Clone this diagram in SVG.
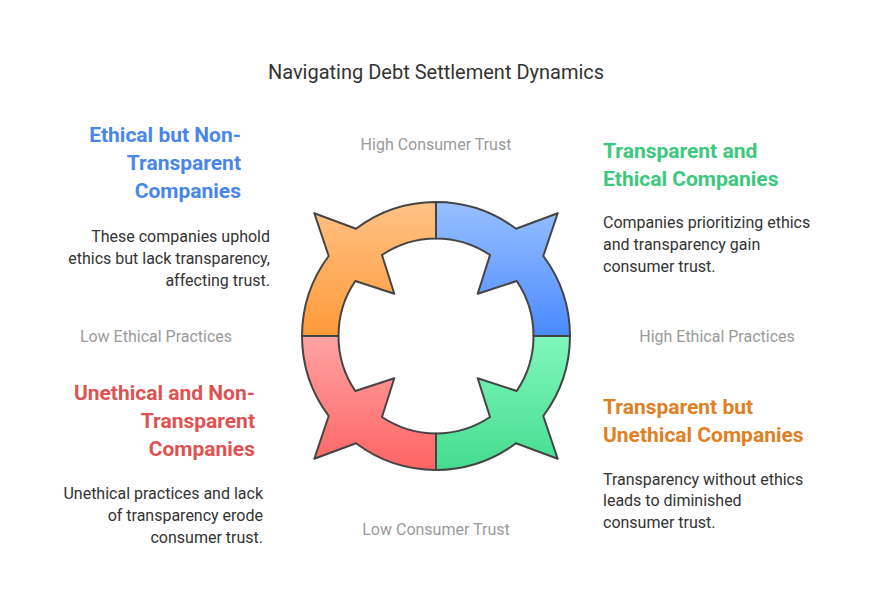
<svg xmlns="http://www.w3.org/2000/svg" width="873" height="616" viewBox="0 0 873 616">
<style>
text{font-family:Roboto,"Liberation Sans",sans-serif}
.t{font-size:20px;fill:#333}
.h{font-size:21px;font-weight:bold}
.b{font-size:16px;fill:#333}
.a{font-size:16px;fill:#9a9a9a}
.q{stroke:#444;stroke-width:2;stroke-linejoin:round}
.r{text-anchor:end}.m{text-anchor:middle}
</style>
<defs>
<linearGradient id="go" x1="0" y1="0" x2="0" y2="1"><stop offset="0" stop-color="#FFC285"/><stop offset="1" stop-color="#FF9A3A"/></linearGradient>
<linearGradient id="gb" x1="0" y1="0" x2="0" y2="1"><stop offset="0" stop-color="#98C0FF"/><stop offset="1" stop-color="#4A8AFF"/></linearGradient>
<linearGradient id="gr" x1="0" y1="0" x2="0" y2="1"><stop offset="0" stop-color="#FFA3A3"/><stop offset="1" stop-color="#FF6464"/></linearGradient>
<linearGradient id="gg" x1="0" y1="0" x2="0" y2="1"><stop offset="0" stop-color="#80F7BC"/><stop offset="1" stop-color="#45DC8E"/></linearGradient>
</defs>
<rect width="873" height="616" fill="#fff"/>
<text class="t m" x="436" y="79">Navigating Debt Settlement Dynamics</text>
<g id="ring">
<path class="q" fill="url(#go)" d="M436,202 L436,238.5 A97.5,97.5 0 0 0 382,255 L394.3,293.7 L355.3,281 A97.5,97.5 0 0 0 338.5,336 L302,336 A134,134 0 0 1 328.7,256 L314.3,213.3 L356,228.7 A134,134 0 0 1 436,202 Z"/>
<path class="q" fill="url(#gb)" d="M436,202 L436,238.5 A97.5,97.5 0 0 1 490,255 L477.7,293.7 L516.7,281 A97.5,97.5 0 0 1 533.5,336 L570,336 A134,134 0 0 0 543.3,256 L557.7,213.3 L516,228.7 A134,134 0 0 0 436,202 Z"/>
<path class="q" fill="url(#gr)" d="M436,470 L436,433.5 A97.5,97.5 0 0 1 382,417 L394.3,378.3 L355.3,391 A97.5,97.5 0 0 1 338.5,336 L302,336 A134,134 0 0 0 328.7,416 L314.3,458.7 L356,443.3 A134,134 0 0 0 436,470 Z"/>
<path class="q" fill="url(#gg)" d="M436,470 L436,433.5 A97.5,97.5 0 0 0 490,417 L477.7,378.3 L516.7,391 A97.5,97.5 0 0 0 533.5,336 L570,336 A134,134 0 0 1 543.3,416 L557.7,458.7 L516,443.3 A134,134 0 0 1 436,470 Z"/>
</g>
<g id="axes">
<text class="a m" x="436" y="150">High Consumer Trust</text>
<text class="a m" x="436" y="535">Low Consumer Trust</text>
<text class="a m" x="156" y="342">Low Ethical Practices</text>
<text class="a m" x="717" y="342">High Ethical Practices</text>
</g>
<g id="ethical-nontransparent">
<text class="h r" fill="#4A86E8" x="241" y="142">Ethical but Non-</text>
<text class="h r" fill="#4A86E8" x="241" y="170">Transparent</text>
<text class="h r" fill="#4A86E8" x="241" y="198">Companies</text>
<text class="b r" x="270" y="242">These companies uphold</text>
<text class="b r" x="270" y="264">ethics but lack transparency,</text>
<text class="b r" x="270" y="286">affecting trust.</text>
</g>
<g id="transparent-ethical">
<text class="h" fill="#3CC87E" x="603" y="158">Transparent and</text>
<text class="h" fill="#3CC87E" x="603" y="186">Ethical Companies</text>
<text class="b" x="603" y="228">Companies prioritizing ethics</text>
<text class="b" x="603" y="250">and transparency gain</text>
<text class="b" x="603" y="272">consumer trust.</text>
</g>
<g id="unethical-nontransparent">
<text class="h r" fill="#E05252" x="255" y="400">Unethical and Non-</text>
<text class="h r" fill="#E05252" x="255" y="428">Transparent</text>
<text class="h r" fill="#E05252" x="255" y="456">Companies</text>
<text class="b r" x="263" y="499">Unethical practices and lack</text>
<text class="b r" x="263" y="521">of transparency erode</text>
<text class="b r" x="263" y="543">consumer trust.</text>
</g>
<g id="transparent-unethical">
<text class="h" fill="#E08024" x="603" y="414">Transparent but</text>
<text class="h" fill="#E08024" x="603" y="442">Unethical Companies</text>
<text class="b" x="603" y="485">Transparency without ethics</text>
<text class="b" x="603" y="506">leads to diminished</text>
<text class="b" x="603" y="528">consumer trust.</text>
</g>
</svg>
